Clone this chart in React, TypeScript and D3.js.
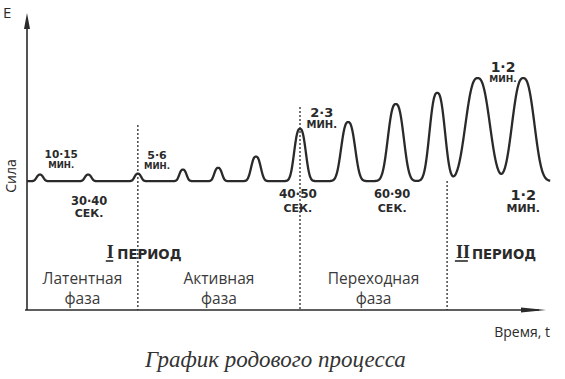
import React from 'react';
import * as d3 from 'd3';

const W = 565;
const H = 379;

// ---- data ----
// contractions: centre in time units, peak force, half width at half max (time units)
const contractionTime = [2.5, 11.8, 21.4, 30.1, 36.9, 44.2, 52.7, 62.0, 71.2, 79.2, 87.0, 95.8];
const contractionPeak = [45.9, 45.9, 46.2, 47.6, 48.2, 52.0, 61.4, 63.7, 69.8, 73.6, 78.6, 78.6];
const contractionHalfWidth = [0.7, 0.7, 0.7, 0.75, 0.8, 1.0, 1.2, 1.45, 1.65, 1.6, 2.5, 2.3];
const tonus = 43.7;
const timeStart = 0;
const timeEnd = 101;

const phaseBoundaries = [21.4, 52.7, 81.1];
const boundaryTop = [62.7, 68.8, 43.7];
const phaseNames = [
  ['Латентная', 'фаза'],
  ['Активная', 'фаза'],
  ['Переходная', 'фаза'],
];
const periodNumerals = ['I', 'II'];
const periodTime = [15.4, 82.8];
const periodWord = 'ПЕРИОД';

const annotationTop = ['10·15', '30·40', '5·6', '40·50', '2·3', '60·90', '1·2', '1·2'];
const annotationBottom = ['МИН.', 'СЕК.', 'МИН.', 'СЕК.', 'МИН.', 'СЕК.', 'МИН.', 'МИН.'];
const annotationTime = [6.6, 12.0, 25.1, 52.3, 56.9, 70.5, 91.9, 95.8];
const annotationForce = [51.5, 35.6, 51.2, 38.0, 65.4, 38.0, 80.7, 37.3];

const yAxisLabel = 'Сила';
const yAxisLetter = 'E';
const xAxisLabel = 'Время, t';
const caption = 'График родового процесса';

// ---- layout / style ----
const annTopSize = [10.5, 11.5, 11, 12, 13, 11.5, 14, 14.5];
const annBottomSize = [8.5, 11, 8.5, 11, 10, 11, 9, 11];
const annGap = [10, 12, 10, 14, 11, 14, 10, 12];
const INK = '#2a2a2a';
const BOLD_FONT = '"DejaVu Sans", sans-serif';
const SANS = '"Open Sans", sans-serif';

const x = d3.scaleLinear().domain([0, 100]).range([27, 545]);
const y = d3.scaleLinear().domain([0, 100]).range([310, 15]);

const SHAPE_P = 2.6;
function force(t: number): number {
  let f = tonus;
  contractionTime.forEach((c, i) => {
    const s = contractionHalfWidth[i] / Math.pow(Math.log(2), 1 / SHAPE_P);
    const a = contractionPeak[i] - tonus;
    f += a * Math.exp(-Math.pow(Math.abs(t - c) / s, SHAPE_P));
  });
  return f;
}

export default function App() {
  const samples = d3.range(timeStart, timeEnd + 0.0001, 0.05);
  const line = d3
    .line<number>()
    .x((t) => x(t))
    .y((t) => y(force(t)))
    .curve(d3.curveMonotoneX);
  const pathD = line(samples) || '';

  const x0 = x(0);
  const y0 = y(0);
  const yTop = y(100);
  const xEnd = x(100);

  const phaseEdges = [0, ...phaseBoundaries];

  return (
    <svg
      width={W}
      height={H}
      style={{ position: 'absolute', left: 0, top: 0, background: '#fff' }}
    >
      <rect x={0} y={0} width={W} height={H} fill="#fff" />
      {/* axes */}
      <line x1={x0} y1={y0} x2={x0} y2={yTop + 6} stroke={INK} strokeWidth={1.6} />
      <path d={`M${x0},${yTop - 2} L${x0 + 3},${yTop + 14} L${x0 - 3},${yTop + 14} Z`} fill={INK} />
      <line x1={x0 - 2} y1={y0} x2={xEnd - 6} y2={y0} stroke={INK} strokeWidth={1.6} />
      <path d={`M${xEnd + 1},${y0} L${xEnd - 24},${y0 - 2.6} L${xEnd - 24},${y0 + 2.6} Z`} fill={INK} />

      {/* phase boundaries */}
      {phaseBoundaries.map((t, i) => (
        <line
          key={'b' + i}
          x1={x(t)}
          x2={x(t)}
          y1={y(boundaryTop[i])}
          y2={y0}
          stroke={INK}
          strokeWidth={1.3}
          strokeDasharray="2,2"
        />
      ))}

      {/* contraction curve */}
      <path d={pathD} fill="none" stroke={INK} strokeWidth={2.3} strokeLinejoin="round" />

      {/* annotations */}
      {annotationTop.map((txt, i) => {
        const ax = x(annotationTime[i]);
        const ay = y(annotationForce[i]);
        return (
          <g key={'a' + i} fill={INK} fontFamily={BOLD_FONT} fontWeight="bold" textAnchor="middle">
            <text x={ax} y={ay} fontSize={annTopSize[i]}>{txt}</text>
            <text x={ax} y={ay + annGap[i]} fontSize={annBottomSize[i]}>{annotationBottom[i]}</text>
          </g>
        );
      })}

      {/* periods */}
      {periodNumerals.map((n, i) => {
        const px = x(periodTime[i]);
        const nw = n.length * 5.5 + 3;
        return (
          <g key={'p' + i} fill={INK}>
            <text
              x={px}
              y={258}
              fontFamily='"Liberation Serif", serif'
              fontWeight="bold"
              fontSize={18}
            >
              {n}
            </text>
            <line x1={px - 1} x2={px + nw - 2} y1={261} y2={261} stroke={INK} strokeWidth={1.6} />
            <text x={px + nw + 2} y={259} fontFamily={BOLD_FONT} fontWeight="bold" fontSize={13.3}>
              {periodWord}
            </text>
          </g>
        );
      })}

      {/* phase names */}
      {phaseNames.map((lines, i) => {
        const cx = (x(phaseEdges[i]) + x(phaseEdges[i + 1])) / 2;
        return (
          <g key={'ph' + i} fill="#3a3a3a" fontFamily={SANS} fontSize={15.5} textAnchor="middle">
            <text x={cx} y={284}>{lines[0]}</text>
            <text x={cx} y={304}>{lines[1]}</text>
          </g>
        );
      })}

      {/* axis labels */}
      <text x={3} y={18} fontFamily={SANS} fontSize={15} fill={INK}>{yAxisLetter}</text>
      <text
        transform={`translate(16,176) rotate(-90)`}
        textAnchor="middle"
        fontFamily={SANS}
        fontSize={14}
        fill={INK}
      >
        {yAxisLabel}
      </text>
      <text x={550} y={337} textAnchor="end" fontFamily={SANS} fontSize={14} fill={INK}>
        {xAxisLabel}
      </text>

      {/* caption */}
      <text
        x={145}
        y={367}
        fontFamily='"Liberation Serif", serif'
        fontStyle="italic"
        fontSize={23}
        fill="#333"
      >
        {caption}
      </text>
    </svg>
  );
}
